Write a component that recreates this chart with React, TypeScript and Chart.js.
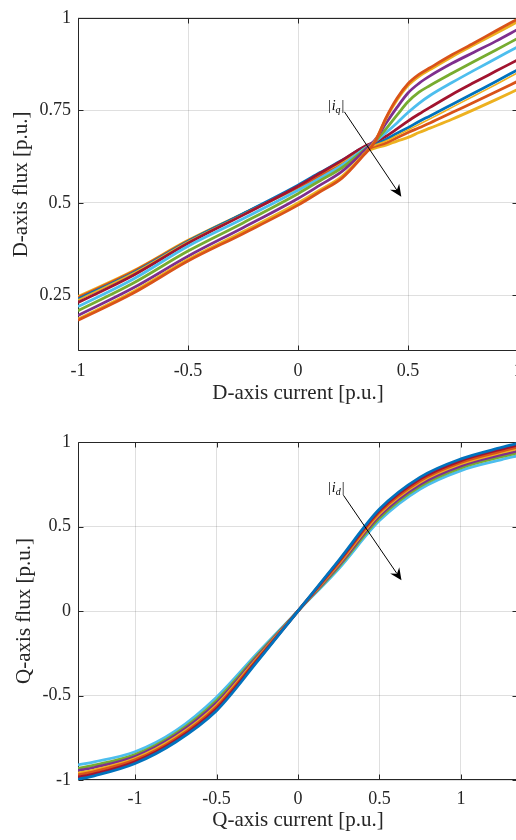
import React, { useEffect, useRef } from 'react';
import { Chart, registerables } from 'chart.js';

Chart.register(...registerables);

const FONT = '"Liberation Serif", "Times New Roman", serif';
const AXIS_COLOR = '#262626';
const GRID_COLOR = 'rgba(38,38,38,0.15)';

const C_BLUE = '#0072BD';
const C_ORANGE = '#D95319';
const C_YELLOW = '#EDB120';
const C_PURPLE = '#7E2F8E';
const C_GREEN = '#77AC30';
const C_CYAN = '#4DBEEE';
const C_DARKRED = '#A2142F';

// ---------- Top chart: D-axis flux vs D-axis current ----------
const D_X_TICKS = [-1, -0.5, 0, 0.5, 1];
const D_Y_TICKS = [0.25, 0.5, 0.75, 1];
const D_CURRENT = [-1, -0.75, -0.5, -0.25, 0, 0.1, 0.2, 0.3, 0.35, 0.4, 0.45, 0.5, 0.55, 0.6, 0.7, 0.8, 0.9, 1];

const D_FLUX_ORANGE_A = [0.183, 0.256, 0.343, 0.417, 0.494, 0.53, 0.567, 0.63, 0.665, 0.73, 0.783, 0.822, 0.847, 0.865, 0.9, 0.932, 0.965, 0.997];
const D_FLUX_YELLOW_A = [0.186, 0.26, 0.347, 0.422, 0.5, 0.535, 0.572, 0.632, 0.667, 0.728, 0.778, 0.817, 0.842, 0.86, 0.895, 0.927, 0.958, 0.99];
const D_FLUX_PURPLE = [0.196, 0.27, 0.356, 0.433, 0.512, 0.548, 0.585, 0.64, 0.67, 0.715, 0.758, 0.797, 0.823, 0.843, 0.877, 0.907, 0.937, 0.969];
const D_FLUX_GREEN = [0.209, 0.283, 0.37, 0.446, 0.525, 0.56, 0.595, 0.643, 0.667, 0.7, 0.737, 0.773, 0.799, 0.817, 0.85, 0.882, 0.913, 0.945];
const D_FLUX_CYAN = [0.22, 0.294, 0.383, 0.457, 0.534, 0.567, 0.602, 0.646, 0.666, 0.69, 0.716, 0.744, 0.769, 0.79, 0.825, 0.858, 0.89, 0.922];
const D_FLUX_DARKRED = [0.231, 0.304, 0.391, 0.467, 0.545, 0.58, 0.615, 0.652, 0.665, 0.68, 0.7, 0.721, 0.74, 0.758, 0.793, 0.825, 0.856, 0.887];
const D_FLUX_YELLOW_THIN = [0.238, 0.31, 0.395, 0.469, 0.545, 0.578, 0.61, 0.645, 0.656, 0.667, 0.682, 0.697, 0.712, 0.727, 0.758, 0.789, 0.82, 0.852];
const D_FLUX_BLUE = [0.24, 0.311, 0.396, 0.471, 0.548, 0.582, 0.615, 0.65, 0.66, 0.672, 0.688, 0.703, 0.72, 0.735, 0.766, 0.797, 0.828, 0.86];
const D_FLUX_ORANGE_B = [0.244, 0.314, 0.397, 0.47, 0.543, 0.575, 0.606, 0.642, 0.653, 0.662, 0.676, 0.69, 0.703, 0.716, 0.744, 0.772, 0.8, 0.829];
const D_FLUX_YELLOW_B = [0.247, 0.316, 0.399, 0.471, 0.541, 0.572, 0.603, 0.638, 0.648, 0.656, 0.667, 0.677, 0.69, 0.702, 0.726, 0.752, 0.779, 0.807];

// annotation (data coords): label start, arrow start, arrow tip
const D_ARROW = { labelX: 0.136, labelY: 0.752, x0: 0.211, y0: 0.746, x1: 0.4695, y1: 0.5166, sub: 'q' };

// ---------- Bottom chart: Q-axis flux vs Q-axis current ----------
const Q_X_TICKS = [-1, -0.5, 0, 0.5, 1];
const Q_Y_TICKS = [-1, -0.5, 0, 0.5, 1];
const Q_CURRENT = [-1.35, -1.25, -1, -0.75, -0.5, -0.25, 0, 0.25, 0.5, 0.75, 1, 1.25, 1.35];

const Q_FLUX_BLUE = [-0.996, -0.975, -0.902, -0.775, -0.59, -0.3, 0, 0.3, 0.603, 0.792, 0.9, 0.968, 0.992];
const Q_FLUX_DARKRED = [-0.984, -0.964, -0.892, -0.766, -0.578, -0.293, 0, 0.293, 0.594, 0.782, 0.89, 0.958, 0.982];
const Q_FLUX_ORANGE = [-0.97, -0.95, -0.881, -0.755, -0.566, -0.285, 0, 0.285, 0.584, 0.771, 0.879, 0.946, 0.97];
const Q_FLUX_YELLOW = [-0.96, -0.941, -0.873, -0.747, -0.557, -0.279, 0, 0.279, 0.576, 0.763, 0.871, 0.938, 0.961];
const Q_FLUX_PURPLE = [-0.945, -0.926, -0.861, -0.735, -0.543, -0.27, 0, 0.27, 0.563, 0.75, 0.859, 0.925, 0.948];
const Q_FLUX_GREEN = [-0.931, -0.912, -0.849, -0.724, -0.529, -0.262, 0, 0.262, 0.551, 0.738, 0.847, 0.913, 0.936];
const Q_FLUX_CYAN = [-0.911, -0.893, -0.833, -0.708, -0.51, -0.25, 0, 0.25, 0.535, 0.722, 0.831, 0.896, 0.919];

const Q_ARROW = { labelX: 0.184, labelY: 0.703, x0: 0.279, y0: 0.685, x1: 0.635, y1: 0.182, sub: 'd' };

type Series = { color: string; values: number[]; width?: number };

const D_SERIES: Series[] = [
  { color: C_ORANGE, values: D_FLUX_ORANGE_A },
  { color: C_YELLOW, values: D_FLUX_YELLOW_A },
  { color: C_PURPLE, values: D_FLUX_PURPLE },
  { color: C_GREEN, values: D_FLUX_GREEN },
  { color: C_CYAN, values: D_FLUX_CYAN },
  { color: C_DARKRED, values: D_FLUX_DARKRED },
  { color: C_YELLOW, values: D_FLUX_YELLOW_THIN, width: 1.6 },
  { color: C_BLUE, values: D_FLUX_BLUE },
  { color: C_ORANGE, values: D_FLUX_ORANGE_B },
  { color: C_YELLOW, values: D_FLUX_YELLOW_B },
];

const Q_SERIES: Series[] = [
  { color: C_BLUE, values: Q_FLUX_BLUE },
  { color: C_DARKRED, values: Q_FLUX_DARKRED },
  { color: C_ORANGE, values: Q_FLUX_ORANGE },
  { color: C_YELLOW, values: Q_FLUX_YELLOW },
  { color: C_PURPLE, values: Q_FLUX_PURPLE },
  { color: C_GREEN, values: Q_FLUX_GREEN },
  { color: C_CYAN, values: Q_FLUX_CYAN },
];

function drawAbsLabel(ctx: CanvasRenderingContext2D, x: number, y: number, sub: string) {
  ctx.save();
  ctx.fillStyle = '#000';
  ctx.textBaseline = 'alphabetic';
  ctx.textAlign = 'left';
  let cx = x;
  ctx.font = `14px ${FONT}`;
  ctx.fillText('|', cx, y);
  cx += ctx.measureText('|').width + 1;
  ctx.font = `italic 14px ${FONT}`;
  ctx.fillText('i', cx, y);
  cx += ctx.measureText('i').width;
  ctx.font = `italic 10px ${FONT}`;
  ctx.fillText(sub, cx, y + 3);
  cx += ctx.measureText(sub).width + 1;
  ctx.font = `14px ${FONT}`;
  ctx.fillText('|', cx, y);
  ctx.restore();
}

function makePlugin(arrow: typeof D_ARROW) {
  return {
    id: 'matlabDecor',
    beforeDatasetsDraw(chart: any) {
      const { ctx, chartArea, scales } = chart;
      const xs = scales.x;
      const ys = scales.y;
      const l = Math.round(chartArea.left) + 0.5;
      const r = Math.round(chartArea.right) - 0.5;
      const t = Math.round(chartArea.top) + 0.5;
      const b = Math.round(chartArea.bottom) - 0.5;
      const tl = 5;
      ctx.save();
      ctx.strokeStyle = AXIS_COLOR;
      ctx.lineWidth = 1;
      ctx.beginPath();
      ctx.rect(l, t, r - l, b - t);
      xs.ticks.forEach((tk: any) => {
        const px = Math.round(xs.getPixelForValue(tk.value)) + 0.5;
        ctx.moveTo(px, b);
        ctx.lineTo(px, b - tl);
        ctx.moveTo(px, t);
        ctx.lineTo(px, t + tl);
      });
      ys.ticks.forEach((tk: any) => {
        const py = Math.round(ys.getPixelForValue(tk.value)) + 0.5;
        ctx.moveTo(l, py);
        ctx.lineTo(l + tl, py);
        ctx.moveTo(r, py);
        ctx.lineTo(r - tl, py);
      });
      ctx.stroke();
      ctx.restore();
    },
    afterDatasetsDraw(chart: any) {
      const { ctx, scales } = chart;
      const xs = scales.x;
      const ys = scales.y;
      const sx = xs.getPixelForValue(arrow.x0);
      const sy = ys.getPixelForValue(arrow.y0);
      const ex = xs.getPixelForValue(arrow.x1);
      const ey = ys.getPixelForValue(arrow.y1);
      const dx = ex - sx;
      const dy = ey - sy;
      const len = Math.hypot(dx, dy);
      const ux = dx / len;
      const uy = dy / len;
      const nx = -uy;
      const ny = ux;
      const L = 12;
      const W = 5.5;
      const notch = 4;
      ctx.save();
      ctx.strokeStyle = '#000';
      ctx.fillStyle = '#000';
      ctx.lineWidth = 1;
      ctx.beginPath();
      ctx.moveTo(sx, sy);
      ctx.lineTo(ex - ux * (L - notch), ey - uy * (L - notch));
      ctx.stroke();
      ctx.beginPath();
      ctx.moveTo(ex, ey);
      ctx.lineTo(ex - ux * L + nx * W, ey - uy * L + ny * W);
      ctx.lineTo(ex - ux * (L - notch), ey - uy * (L - notch));
      ctx.lineTo(ex - ux * L - nx * W, ey - uy * L - ny * W);
      ctx.closePath();
      ctx.fill();
      ctx.restore();
      drawAbsLabel(ctx, xs.getPixelForValue(arrow.labelX), ys.getPixelForValue(arrow.labelY), arrow.sub);
    },
  };
}

type Cfg = {
  xs: number[];
  series: Series[];
  xMin: number;
  xMax: number;
  yMin: number;
  yMax: number;
  xTicks: number[];
  yTicks: number[];
  xTitle: string;
  yTitle: string;
  padTop: number;
  xAxisHeight: number;
  xTickPad: number;
  xTitlePadBottom: number;
  yTitlePadTop: number;
  arrow: typeof D_ARROW;
};

const CANVAS_W = 540;
const CANVAS_H = 420;
const PAD_RIGHT = 22;

function FluxChart({ cfg }: { cfg: Cfg }) {
  const ref = useRef<HTMLCanvasElement | null>(null);
  useEffect(() => {
    if (!ref.current) return;
    const tickFont = { family: FONT, size: 18 };
    const titleFont = { family: FONT, size: 21 };
    const chart = new Chart(ref.current, {
      type: 'line',
      data: {
        datasets: cfg.series.map((s) => ({
          data: cfg.xs.map((x, i) => ({ x, y: s.values[i] })),
          borderColor: s.color,
          backgroundColor: s.color,
          borderWidth: s.width ?? 2.8,
          pointRadius: 0,
          fill: false,
          cubicInterpolationMode: 'monotone' as const,
          clip: 0,
        })),
      },
      options: {
        responsive: false,
        animation: false,
        devicePixelRatio: 1,
        layout: { padding: { left: 0, right: PAD_RIGHT, top: cfg.padTop, bottom: 0 } },
        plugins: { legend: { display: false }, tooltip: { enabled: false } },
        scales: {
          x: {
            type: 'linear',
            min: cfg.xMin,
            max: cfg.xMax,
            afterBuildTicks: (s: any) => {
              s.ticks = cfg.xTicks.map((v) => ({ value: v }));
            },
            afterFit: (s: any) => {
              s.height = cfg.xAxisHeight;
            },
            grid: { color: GRID_COLOR, drawTicks: false, lineWidth: 1 },
            border: { display: false },
            ticks: {
              padding: cfg.xTickPad,
              color: AXIS_COLOR,
              font: tickFont,
              maxRotation: 0,
              autoSkip: false,
              callback: (v: any) => String(v),
            },
            title: {
              display: true,
              text: cfg.xTitle,
              color: AXIS_COLOR,
              font: titleFont,
              padding: { top: 0, bottom: cfg.xTitlePadBottom },
            },
          },
          y: {
            type: 'linear',
            min: cfg.yMin,
            max: cfg.yMax,
            afterBuildTicks: (s: any) => {
              s.ticks = cfg.yTicks.map((v) => ({ value: v }));
            },
            afterFit: (s: any) => {
              s.width = 78;
            },
            grid: { color: GRID_COLOR, drawTicks: false, lineWidth: 1 },
            border: { display: false },
            ticks: {
              padding: 7,
              color: AXIS_COLOR,
              font: tickFont,
              autoSkip: false,
              callback: (v: any) => String(v),
            },
            title: {
              display: true,
              text: cfg.yTitle,
              color: AXIS_COLOR,
              font: titleFont,
              padding: { top: cfg.yTitlePadTop, bottom: 0 },
            },
          },
        },
      },
      plugins: [makePlugin(cfg.arrow)],
    } as any);
    return () => chart.destroy();
  }, [cfg]);
  return (
    <canvas
      ref={ref}
      width={CANVAS_W}
      height={CANVAS_H}
      style={{ display: 'block', width: CANVAS_W, height: CANVAS_H }}
    />
  );
}

const TOP_CFG: Cfg = {
  xs: D_CURRENT,
  series: D_SERIES,
  xMin: -1,
  xMax: 1,
  yMin: 0.1,
  yMax: 1,
  xTicks: D_X_TICKS,
  yTicks: D_Y_TICKS,
  xTitle: 'D-axis current [p.u.]',
  yTitle: 'D-axis flux [p.u.]',
  padTop: 14,
  xAxisHeight: 69,
  xTickPad: 9,
  xTitlePadBottom: 14,
  yTitlePadTop: 9,
  arrow: D_ARROW,
};

const BOTTOM_CFG: Cfg = {
  xs: Q_CURRENT,
  series: Q_SERIES,
  xMin: -1.35,
  xMax: 1.35,
  yMin: -1,
  yMax: 1,
  xTicks: Q_X_TICKS,
  yTicks: Q_Y_TICKS,
  xTitle: 'Q-axis current [p.u.]',
  yTitle: 'Q-axis flux [p.u.]',
  padTop: 22,
  xAxisHeight: 60,
  xTickPad: 8,
  xTitlePadBottom: 7,
  yTitlePadTop: 12,
  arrow: Q_ARROW,
};

export default function App() {
  return (
    <div
      style={{
        position: 'absolute',
        left: 0,
        top: 0,
        width: 516,
        height: 840,
        overflow: 'hidden',
        background: '#fff',
      }}
    >
      <div style={{ position: 'absolute', left: 0, top: 0 }}>
        <FluxChart cfg={TOP_CFG} />
      </div>
      <div style={{ position: 'absolute', left: 0, top: 420 }}>
        <FluxChart cfg={BOTTOM_CFG} />
      </div>
    </div>
  );
}
